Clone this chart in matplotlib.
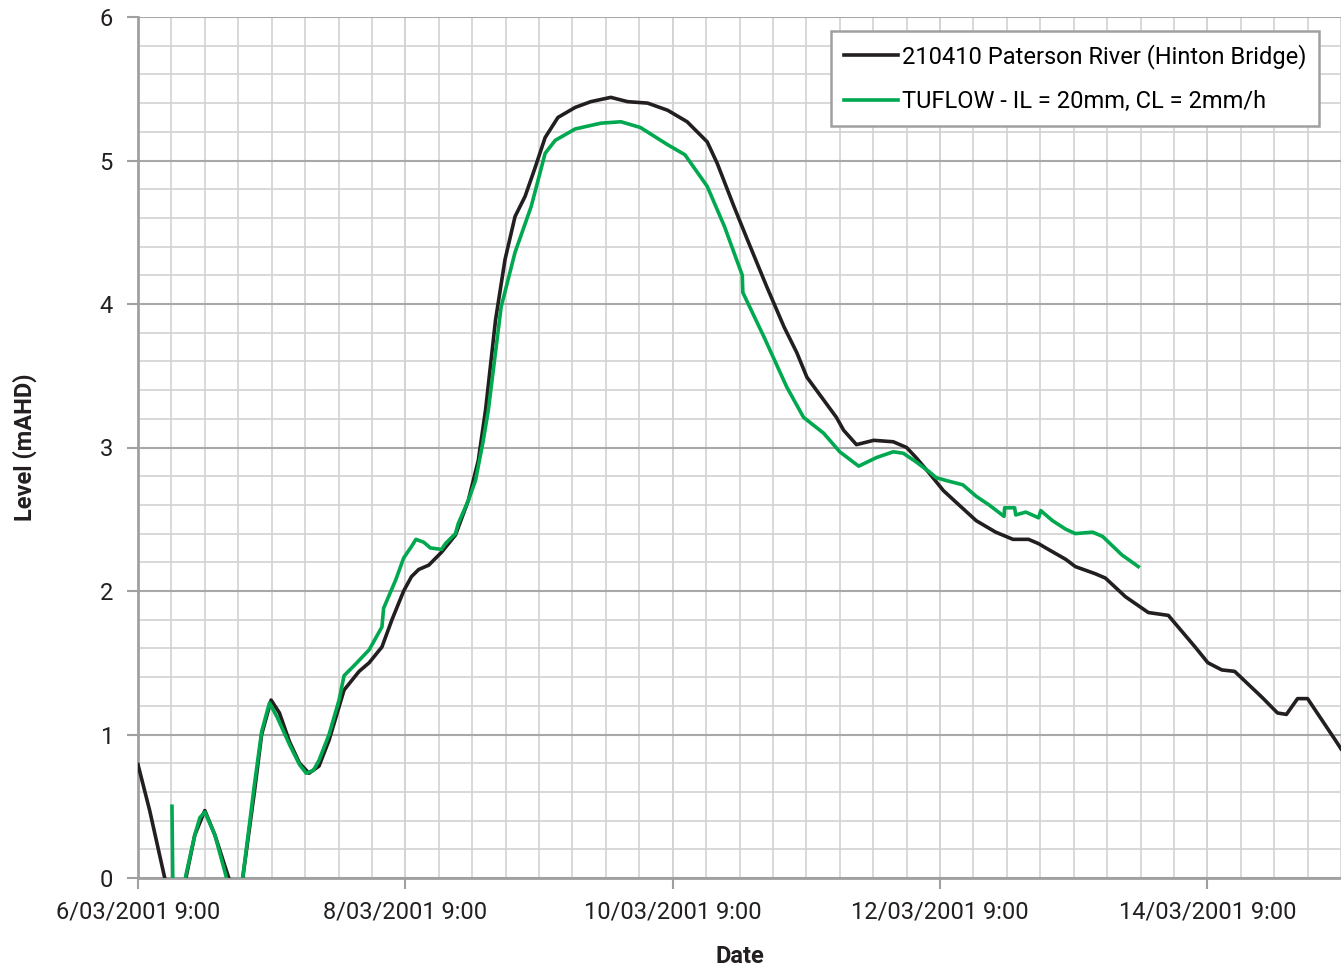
import numpy as np
import matplotlib
matplotlib.use('Agg')
import matplotlib.pyplot as plt
import matplotlib.dates as mdates
from datetime import datetime, timedelta

plt.rcParams['font.family'] = ['Roboto', 'DejaVu Sans']

### DATA - hours after 6/03/2001 9:00, level in mAHD
start = datetime(2001, 3, 6, 9, 0)

obs_hours = [0, 2.1, 4.8, 6.5, 8.6, 10.2, 12.0, 13.8, 16.3, 17.5, 18.8, 20.9, 22.2, 23.9,
             25.4, 27.2, 29.0, 30.7, 32.5, 34.3, 37.0, 39.7, 41.5, 43.8, 45.6, 47.7, 49.1,
             50.4, 52.2, 54.5, 57.0, 59.3, 61.1, 62.4, 64.2, 65.9, 67.7, 69.5, 71.3, 73.1,
             75.4, 78.5, 81.3, 84.9, 87.9, 91.5, 95.1, 98.6, 102.2, 104.0, 107.0, 109.4,
             112.9, 116.0, 118.3, 120.1, 125.4, 126.7, 129.0, 132.1, 135.6, 138.0, 139.7,
             142.1, 144.6, 147.4, 150.5, 154.0, 157.1, 159.9, 161.7, 163.0, 166.6, 168.3,
             171.9, 173.7, 177.3, 181.4, 185.0, 189.8, 192.1, 194.6, 196.9, 201.8, 204.6,
             206.2, 208.2, 210.0, 215.0, 216.0]
obs_level = [0.79, 0.47, 0.0, -0.2, 0.0, 0.3, 0.47, 0.3, 0.0, -0.15, 0.0, 0.6, 1.0, 1.24,
             1.15, 0.95, 0.8, 0.73, 0.78, 0.96, 1.31, 1.44, 1.5, 1.61, 1.8, 2.0, 2.10,
             2.15, 2.18, 2.27, 2.39, 2.63, 2.91, 3.26, 3.89, 4.31, 4.61, 4.75, 4.95, 5.16,
             5.30, 5.37, 5.41, 5.44, 5.41, 5.40, 5.35, 5.27, 5.13, 4.98, 4.68, 4.45,
             4.12, 3.84, 3.66, 3.49, 3.21, 3.12, 3.02, 3.05, 3.04, 3.0, 2.93,
             2.82, 2.70, 2.6, 2.49, 2.41, 2.36, 2.36, 2.33, 2.30, 2.22, 2.17,
             2.12, 2.09, 1.96, 1.85, 1.83, 1.61, 1.5, 1.45, 1.44, 1.26, 1.15,
             1.14, 1.25, 1.25, 0.96, 0.9]

mod_hours = [6.1, 6.3, 7.5, 8.6, 10.2, 11.1, 12.0, 13.8, 15.9, 17.3, 18.8, 20.9, 22.2, 23.6,
             25.0, 27.2, 29.0, 30.2, 31.5, 32.5, 34.3, 36.1, 37.0, 38.8, 41.5, 43.8, 44.1,
             46.3, 47.7, 49.1, 49.9, 51.3, 52.5, 54.5, 55.2, 57.0, 57.5, 59.3, 60.6, 62.0,
             62.9, 65.2, 67.7, 70.6, 73.1, 74.9, 78.5, 83.1, 86.7, 90.2, 95.1, 98.2, 102.2,
             105.3, 108.5, 108.6, 112.4, 116.5, 119.5, 123.1, 126.0, 129.4, 132.6, 135.6,
             137.4, 139.7, 142.1, 143.3, 145.1, 148.1, 150.5, 152.8, 155.5, 155.6, 157.4,
             157.6, 159.4, 161.7, 162.1, 164.2, 166.6, 168.3, 171.4, 173.2, 176.7, 177.8,
             179.6]
mod_level = [0.5, -0.2, -0.3, 0.02, 0.3, 0.42, 0.46, 0.3, 0.0, -0.2, 0.0, 0.65, 1.02, 1.22,
             1.12, 0.93, 0.79, 0.73, 0.75, 0.82, 1.0, 1.24, 1.41, 1.48, 1.59, 1.75, 1.88,
             2.08, 2.23, 2.31, 2.36, 2.34, 2.30, 2.29, 2.33, 2.40, 2.47, 2.63, 2.77, 3.05,
             3.26, 3.98, 4.36, 4.68, 5.05, 5.14, 5.22, 5.26, 5.27, 5.23, 5.11, 5.04, 4.82,
             4.54, 4.2, 4.08, 3.77, 3.42, 3.21, 3.1, 2.97, 2.87, 2.93, 2.97,
             2.96, 2.90, 2.83, 2.79, 2.77, 2.74, 2.66, 2.6, 2.52, 2.58, 2.58,
             2.53, 2.55, 2.51, 2.56, 2.49, 2.43, 2.40, 2.41, 2.38, 2.25, 2.22,
             2.17]

obs_label = '210410 Paterson River (Hinton Bridge)'
mod_label = 'TUFLOW - IL = 20mm, CL = 2mm/h'

obs_t = [start + timedelta(hours=h) for h in obs_hours]
mod_t = [start + timedelta(hours=h) for h in mod_hours]

### PLOT
fig = plt.figure(figsize=(13.41, 9.67), dpi=100)
ax = fig.add_axes([138/1341, 1 - 878/967, 1 - 138/1341, (878 - 17)/967])

ax.plot(obs_t, obs_level, color='#231f20', lw=2.6, label=obs_label, zorder=3)
ax.plot(mod_t, mod_level, color='#00a84f', lw=2.6, label=mod_label, zorder=4)

ax.set_ylim(0, 6)
ax.set_xlim(start, start + timedelta(hours=(1341 - 138) / 134.3 * 24))

ax.yaxis.set_major_locator(matplotlib.ticker.MultipleLocator(1))
ax.yaxis.set_minor_locator(matplotlib.ticker.MultipleLocator(0.2))
major_days = [start + timedelta(days=2*i) for i in range(5)]
ax.set_xticks(major_days)
ax.set_xticklabels([f'{d.day}/{d.month:02d}/{d.year} 9:00' for d in major_days])
ax.set_xticks([start + timedelta(hours=6*i) for i in range(37)], minor=True)

ax.grid(which='minor', color='#d2d2d2', lw=1.2)
ax.grid(which='major', axis='y', color='#a8a8a8', lw=1.5)
ax.grid(which='major', axis='x', color='#d0d0d0', lw=1.3)
ax.set_axisbelow(True)

for s in ['top', 'right']:
    ax.spines[s].set_visible(False)
for s in ['left', 'bottom']:
    ax.spines[s].set_color('#a0a0a0')
    ax.spines[s].set_linewidth(2)

ax.tick_params(which='major', length=8, width=1.5, color='#a0a0a0', labelsize=17,
               labelcolor='#231f20')
ax.tick_params(which='minor', length=0)
ax.tick_params(axis='x', pad=8)
ax.tick_params(axis='y', pad=10)

ax.set_xlabel('Date', fontsize=17, fontweight='bold', color='#231f20', labelpad=16)
ax.set_ylabel('Level (mAHD)', fontsize=17, fontweight='bold', color='#231f20', labelpad=45)

leg = ax.legend(loc='upper right', bbox_to_anchor=(1319/1341, 1 - 31/967),
                bbox_transform=fig.transFigure,
                fontsize=17, fancybox=False, framealpha=1, edgecolor='#a0a0a0',
                handlelength=2.3, handletextpad=0.15, borderpad=0.55, labelspacing=0.9,
                borderaxespad=0)
leg.get_frame().set_linewidth(1.8)

fig.savefig('out.png', dpi=100)
